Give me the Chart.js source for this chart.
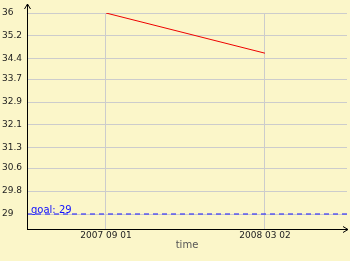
<!DOCTYPE html>
<html>
<head>
<meta charset="utf-8">
<script src="https://cdn.jsdelivr.net/npm/chart.js@4/dist/chart.umd.min.js"></script>
<style>
  html, body { margin: 0; padding: 0; background: #fbf6c9; }
  #wrap { width: 350px; height: 261px; }
</style>
</head>
<body>
<div id="wrap"><canvas id="c" width="350" height="261"></canvas></div>
<script>
// data
var dates = ["2007-09-01", "2008-03-02"];
var values = [36, 34.6];
var goal = 29;
var yTicks = [29, 29.8, 30.6, 31.3, 32.1, 32.9, 33.7, 34.4, 35.2, 36];

var DAY = 86400000;
var t0 = Date.parse(dates[0]);
function dayOf(s) { return (Date.parse(s) - t0) / DAY; }
function fmtDate(d) {
  var dt = new Date(t0 + d * DAY);
  var m = dt.getUTCMonth() + 1, dd = dt.getUTCDate();
  return dt.getUTCFullYear() + " " + (m < 10 ? "0" : "") + m + " " + (dd < 10 ? "0" : "") + dd;
}

var xs = dates.map(dayOf);
var xMin = -90.9, xMax = 277.4;

var points = xs.map(function (x, i) { return { x: x, y: values[i] }; });
var goalPts = [{ x: xMin, y: goal }, { x: xMax, y: goal }];

var axesPlugin = {
  id: "axes",
  afterDraw: function (chart) {
    var ctx = chart.ctx, a = chart.chartArea;
    var y = chart.scales.y;
    ctx.save();
    ctx.strokeStyle = "#000";
    ctx.lineWidth = 1;
    ctx.beginPath();
    // y axis
    ctx.moveTo(a.left + 0.5, a.bottom + 0.5);
    ctx.lineTo(a.left + 0.5, 4);
    ctx.moveTo(a.left - 2.5, 9);
    ctx.lineTo(a.left + 0.5, 4);
    ctx.lineTo(a.left + 3.5, 9);
    // x axis
    ctx.moveTo(a.left, a.bottom + 0.5);
    ctx.lineTo(a.right + 1, a.bottom + 0.5);
    ctx.moveTo(a.right - 4, a.bottom - 2.5);
    ctx.lineTo(a.right + 1, a.bottom + 0.5);
    ctx.lineTo(a.right - 4, a.bottom + 3.5);
    ctx.stroke();
    // goal label
    ctx.fillStyle = "#1010ff";
    ctx.font = "10px 'DejaVu Sans'";
    ctx.textBaseline = "alphabetic";
    ctx.fillText("goal: " + goal, a.left + 4, y.getPixelForValue(goal) - 1);
    ctx.restore();
  }
};

var bgPlugin = {
  id: "bg",
  beforeDraw: function (chart) {
    var ctx = chart.ctx;
    ctx.save();
    ctx.fillStyle = "#fbf6c9";
    ctx.fillRect(0, 0, chart.width, chart.height);
    ctx.restore();
  }
};

new Chart(document.getElementById("c"), {
  type: "line",
  data: {
    datasets: [
      {
        data: points,
        borderColor: "#ee0000",
        borderWidth: 1,
        pointRadius: 0,
        tension: 0
      },
      {
        data: goalPts,
        borderColor: "#1010ff",
        borderWidth: 1,
        borderDash: [5, 4],
        pointRadius: 0
      }
    ]
  },
  options: {
    responsive: false,
    animation: false,
    layout: { padding: { left: 2, right: 3, top: 13, bottom: 10 } },
    plugins: { legend: { display: false }, tooltip: { enabled: false } },
    scales: {
      x: {
        type: "linear",
        min: xMin,
        max: xMax,
        afterBuildTicks: function (s) { s.ticks = xs.map(function (v) { return { value: v }; }); },
        afterFit: function (s) { s.height = 22; },
        grid: { color: "#cccccc", drawTicks: false },
        border: { display: false },
        ticks: {
          color: "#222",
          font: { family: "DejaVu Sans", size: 9 },
          padding: 1,
          maxRotation: 0,
          autoSkip: false,
          callback: function (v) { return fmtDate(v); }
        },
        title: {
          display: true,
          text: "time",
          color: "#555",
          font: { family: "DejaVu Sans", size: 10 },
          padding: { top: 0, bottom: 0 }
        }
      },
      y: {
        min: 28.478,
        max: 36,
        afterBuildTicks: function (s) { s.ticks = yTicks.map(function (v) { return { value: v }; }); },
        afterFit: function (s) { s.width = 25; },
        grid: { color: "#cccccc", drawTicks: false },
        border: { display: false },
        ticks: {
          color: "#222",
          font: { family: "DejaVu Sans", size: 9 },
          crossAlign: "far",
          padding: 0,
          callback: function (v) { return String(v); }
        }
      }
    }
  },
  plugins: [bgPlugin, axesPlugin]
});
</script>
</body>
</html>
